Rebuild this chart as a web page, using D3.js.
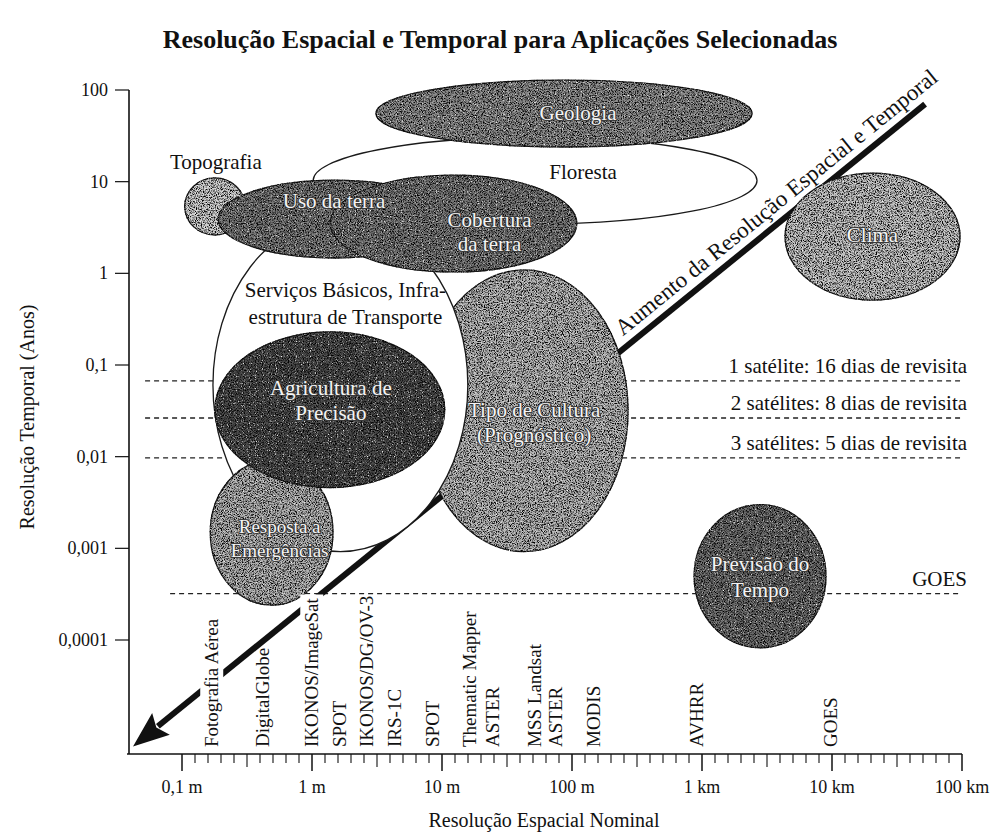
<!DOCTYPE html>
<html>
<head>
<meta charset="utf-8">
<script src="https://cdn.jsdelivr.net/npm/d3@7"></script>
<style>
  body { margin: 0; background: #fff; }
  svg text { font-family: "Liberation Serif", "DejaVu Serif", serif; fill: #111; }
</style>
</head>
<body>
<svg id="chart" width="995" height="835"></svg>
<script>
// ---- data ----
var chartTitle = "Resolução Espacial e Temporal para Aplicações Selecionadas";
var xTitle = "Resolução Espacial Nominal";
var yTitle = "Resolução Temporal (Anos)";

var yTickValues = [100, 10, 1, 0.1, 0.01, 0.001, 0.0001];
var yTickLabels = ["100", "10", "1", "0,1", "0,01", "0,001", "0,0001"];
var xTickValues = [0.1, 1, 10, 100, 1000, 10000, 100000];
var xTickLabels = ["0,1 m", "1 m", "10 m", "100 m", "1 km", "10 km", "100 km"];

// applications: spatial extent in metres, temporal extent in years (drawing order)
var applications = ["Floresta", "Geologia", "Topografia", "Tipo de Cultura", "Serviços Básicos",
    "Uso da terra", "Cobertura da terra", "Resposta a Emergências", "Agricultura de Precisão",
    "Clima", "Previsão do Tempo"];
var appLabels = [["Floresta"], ["Geologia"], ["Topografia"], ["Tipo de Cultura", "(Prognóstico)"],
    ["Serviços Básicos, Infra-", "estrutura de Transporte"], ["Uso da terra"], ["Cobertura", "da terra"],
    ["Resposta a", "Emergências"], ["Agricultura de", "Precisão"], ["Clima"], ["Previsão do", "Tempo"]];
var spatialMin = [1.02, 3.1, 0.105, 6.8, 0.173, 0.19, 1.38, 0.165, 0.179, 4350, 870];
var spatialMax = [2650, 2430, 0.305, 270, 15.8, 11.5, 109, 1.45, 10.5, 96600, 8990];
var temporalMin = [3.46, 23.9, 2.62, 0.00092, 0.00092, 1.47, 1.035, 0.00024, 0.0046, 0.51, 0.000082];
var temporalMax = [30.7, 128, 11, 1.09, 4.0, 10.4, 11.8, 0.0092, 0.23, 12.4, 0.003];

// sensors along the spatial axis (metres)
var sensors = ["Fotografia Aérea", "DigitalGlobe", "IKONOS/ImageSat", "SPOT", "IKONOS/DG/OV-3", "IRS-1C",
    "SPOT", "Thematic Mapper", "ASTER", "MSS Landsat", "ASTER", "MODIS", "AVHRR", "GOES"];
var sensorResolution = [0.17, 0.42, 1.0, 1.64, 2.65, 4.35, 8.5, 16.4, 24.7, 52, 75, 147, 916, 9800];

// revisit lines (years) and their spatial span (metres)
var revisitLabels = ["1 satélite: 16 dias de revisita", "2 satélites: 8 dias de revisita",
    "3 satélites: 5 dias de revisita", "GOES"];
var revisitYears = [0.067, 0.0264, 0.0097, 0.00032];
var revisitFrom = [0.052, 0.052, 0.052, 0.081];
var revisitTo = [96600, 96600, 96600, 96600];

// trend arrow: [metres, years]
var trendLabel = "Aumento da Resolução Espacial e Temporal";
var trendFrom = [52000, 70];
var trendTo = [0.042, 0.0000069];

// ---- styles / layout ----
var appStyle = {
    "Floresta": { fill: "#ffffff", grain: false, light: false, dx: 48, dy: -1 },
    "Geologia": { fill: "#8a8a8a", grain: true, light: true, dx: 14, dy: 6 },
    "Topografia": { fill: "#cfcfcf", grain: true, light: false, dx: 1, dy: -37 },
    "Tipo de Cultura": { fill: "#b6b6b6", grain: true, light: true, dx: 10, dy: 6, lh: 25 },
    "Serviços Básicos": { fill: "#ffffff", grain: false, light: false, dx: 5, dy: -88, lh: 27 },
    "Uso da terra": { fill: "#767676", grain: true, light: true, dx: 0, dy: -11 },
    "Cobertura da terra": { fill: "#767676", grain: true, light: true, dx: 36, dy: 3, lh: 24 },
    "Resposta a Emergências": { fill: "#b0b0b0", grain: true, light: true, dx: 8, dy: 0, lh: 24, size: 19 },
    "Agricultura de Precisão": { fill: "#4a4a4a", grain: true, light: true, dx: 1, dy: -15, lh: 25 },
    "Clima": { fill: "#c2c2c2", grain: true, light: true, dx: 0, dy: 5 },
    "Previsão do Tempo": { fill: "#6a6a6a", grain: true, light: true, dx: 0, dy: -5, lh: 26 }
};
var maskedSensors = ["Fotografia Aérea", "IKONOS/ImageSat"];

var axisX = 129, axisY = 754, axisRight = 962, axisTop = 90;

var svg = d3.select("#chart");

var x = d3.scaleLog().domain([0.1, 100000]).range([182, 962]);
var y = d3.scaleLog().domain([0.0001, 100]).range([640, 90]);

// grain texture filter (scanned halftone look)
var defs = svg.append("defs");
var f = defs.append("filter").attr("id", "grain")
    .attr("x", "-2%").attr("y", "-2%").attr("width", "104%").attr("height", "104%")
    .attr("color-interpolation-filters", "sRGB");
f.append("feTurbulence").attr("type", "fractalNoise").attr("baseFrequency", 0.85)
    .attr("numOctaves", 2).attr("seed", 7).attr("result", "n");
f.append("feColorMatrix").attr("in", "n").attr("type", "matrix")
    .attr("values", "0 0 0 0 0  0 0 0 0 0  0 0 0 0 0  3.6 0 0 0 -1.55").attr("result", "dk");
f.append("feComposite").attr("in", "dk").attr("in2", "SourceGraphic").attr("operator", "in").attr("result", "dkIn");
f.append("feColorMatrix").attr("in", "n").attr("type", "matrix")
    .attr("values", "0 0 0 0 1  0 0 0 0 1  0 0 0 0 1  0 -3.6 0 0 1.45").attr("result", "lt");
f.append("feComposite").attr("in", "lt").attr("in2", "SourceGraphic").attr("operator", "in").attr("result", "ltIn");
var fm = f.append("feMerge");
fm.append("feMergeNode").attr("in", "SourceGraphic");
fm.append("feMergeNode").attr("in", "dkIn");
fm.append("feMergeNode").attr("in", "ltIn");

// title
svg.append("text").attr("x", 500).attr("y", 48).attr("text-anchor", "middle")
    .style("font-size", "26px").style("font-weight", "bold").text(chartTitle);

// revisit dashed lines (under the ellipses)
var revisit = svg.append("g");
revisitLabels.forEach(function (lab, i) {
    revisit.append("line")
        .attr("x1", x(revisitFrom[i])).attr("x2", x(revisitTo[i]))
        .attr("y1", y(revisitYears[i])).attr("y2", y(revisitYears[i]))
        .attr("stroke", "#222").attr("stroke-width", 1.3).attr("stroke-dasharray", "5,4");
    revisit.append("text")
        .attr("x", x(revisitTo[i]) + 7).attr("y", y(revisitYears[i]) - 8)
        .attr("text-anchor", "end").style("font-size", "21px").text(lab);
});

// trend arrow (under the ellipses)
var p0 = [x(trendFrom[0]), y(trendFrom[1])];
var p1 = [x(trendTo[0]), y(trendTo[1])];
var ang = Math.atan2(p1[1] - p0[1], p1[0] - p0[0]);
var ux = Math.cos(ang), uy = Math.sin(ang);
var headLen = 36, headHalf = 14;
var base = [p1[0] - ux * headLen, p1[1] - uy * headLen];
var arrow = svg.append("g");
arrow.append("line")
    .attr("x1", p0[0]).attr("y1", p0[1])
    .attr("x2", base[0] + ux * 4).attr("y2", base[1] + uy * 4)
    .attr("stroke", "#111").attr("stroke-width", 6);
arrow.append("path")
    .attr("d", d3.line()([
        p1,
        [base[0] - uy * headHalf, base[1] + ux * headHalf],
        [base[0] + ux * 6, base[1] + uy * 6],
        [base[0] + uy * headHalf, base[1] - ux * headHalf]
    ]) + "Z")
    .attr("fill", "#111");

// arrow label, parallel to the arrow, above it
var dxu = -ux, dyu = -uy; // towards the upper end
var tPos = 0.826;
var pm = [p1[0] + (p0[0] - p1[0]) * tPos, p1[1] + (p0[1] - p1[1]) * tPos];
var nx = dyu, ny = -dxu;
svg.append("text")
    .attr("transform", "translate(" + (pm[0] + nx * 10) + "," + (pm[1] + ny * 10) + ") rotate(" +
        (Math.atan2(dyu, dxu) * 180 / Math.PI) + ")")
    .attr("text-anchor", "middle").style("font-size", "23px").text(trendLabel);

// application ellipses
var apps = applications.map(function (name, i) {
    var x0 = x(spatialMin[i]), x1 = x(spatialMax[i]);
    var y0 = y(temporalMax[i]), y1 = y(temporalMin[i]);
    return { name: name, lines: appLabels[i], cx: (x0 + x1) / 2, cy: (y0 + y1) / 2,
        rx: (x1 - x0) / 2, ry: (y1 - y0) / 2, st: appStyle[name] };
});

var gApps = svg.append("g");
apps.forEach(function (a) {
    gApps.append("ellipse")
        .attr("cx", a.cx).attr("cy", a.cy).attr("rx", a.rx).attr("ry", a.ry)
        .attr("fill", a.st.fill).attr("stroke", "#1a1a1a").attr("stroke-width", 1.3)
        .attr("filter", a.st.grain ? "url(#grain)" : null);
});

var gLabels = svg.append("g");
apps.forEach(function (a) {
    var lh = a.st.lh || 25;
    var t = gLabels.append("text")
        .attr("text-anchor", "middle")
        .style("font-size", (a.st.size || 21) + "px");
    if (a.st.light) {
        t.style("fill", "#f4f4f4").style("stroke", "#3a3a3a").style("stroke-width", "2px")
            .style("paint-order", "stroke").style("stroke-linejoin", "round");
    }
    a.lines.forEach(function (ln, k) {
        t.append("tspan").attr("x", a.cx + a.st.dx).attr("y", a.cy + a.st.dy + k * lh).text(ln);
    });
});

// sensor labels (vertical)
var gSens = svg.append("g");
sensors.forEach(function (s, i) {
    var g = gSens.append("g")
        .attr("transform", "translate(" + x(sensorResolution[i]) + "," + 747 + ") rotate(-90)");
    var t = g.append("text").attr("x", 0).attr("y", 0).attr("dy", "0.33em")
        .style("font-size", "19px").text(s);
    if (maskedSensors.indexOf(s) >= 0) {
        var bb = t.node().getBBox();
        g.insert("rect", "text").attr("x", bb.x - 3).attr("y", bb.y - 1)
            .attr("width", bb.width + 6).attr("height", bb.height + 2).attr("fill", "#fff");
    }
});

// y axis
var gy = svg.append("g");
gy.append("line").attr("x1", axisX).attr("x2", axisX).attr("y1", axisTop).attr("y2", axisY)
    .attr("stroke", "#111").attr("stroke-width", 1.6);
yTickValues.forEach(function (v, i) {
    gy.append("line").attr("x1", axisX - 14).attr("x2", axisX).attr("y1", y(v)).attr("y2", y(v))
        .attr("stroke", "#111").attr("stroke-width", 1.2);
    gy.append("text").attr("x", axisX - 21).attr("y", y(v)).attr("dy", "0.33em")
        .attr("text-anchor", "end").style("font-size", "18px").text(yTickLabels[i]);
});
svg.append("text").attr("transform", "translate(34,417) rotate(-90)")
    .attr("text-anchor", "middle").style("font-size", "20px").text(yTitle);

// x axis
var gx = svg.append("g");
gx.append("line").attr("x1", axisX - 2).attr("x2", axisRight).attr("y1", axisY).attr("y2", axisY)
    .attr("stroke", "#111").attr("stroke-width", 1.6);
xTickValues.forEach(function (v, i) {
    var steps = i < xTickValues.length - 1 ? 10 : 1;
    for (var k = 0; k < steps; k++) {
        var tv = v * Math.pow(10, k / 10);
        var len = k === 0 ? 17 : (k === 5 ? 13 : 9);
        gx.append("line").attr("x1", x(tv)).attr("x2", x(tv)).attr("y1", axisY).attr("y2", axisY + len)
            .attr("stroke", "#111").attr("stroke-width", k === 0 ? 1.5 : 1.1);
    }
    gx.append("text").attr("x", x(v)).attr("y", 793).attr("text-anchor", "middle")
        .style("font-size", "18px").text(xTickLabels[i]);
});
svg.append("text").attr("x", 544).attr("y", 827).attr("text-anchor", "middle")
    .style("font-size", "20px").text(xTitle);
</script>
</body>
</html>
